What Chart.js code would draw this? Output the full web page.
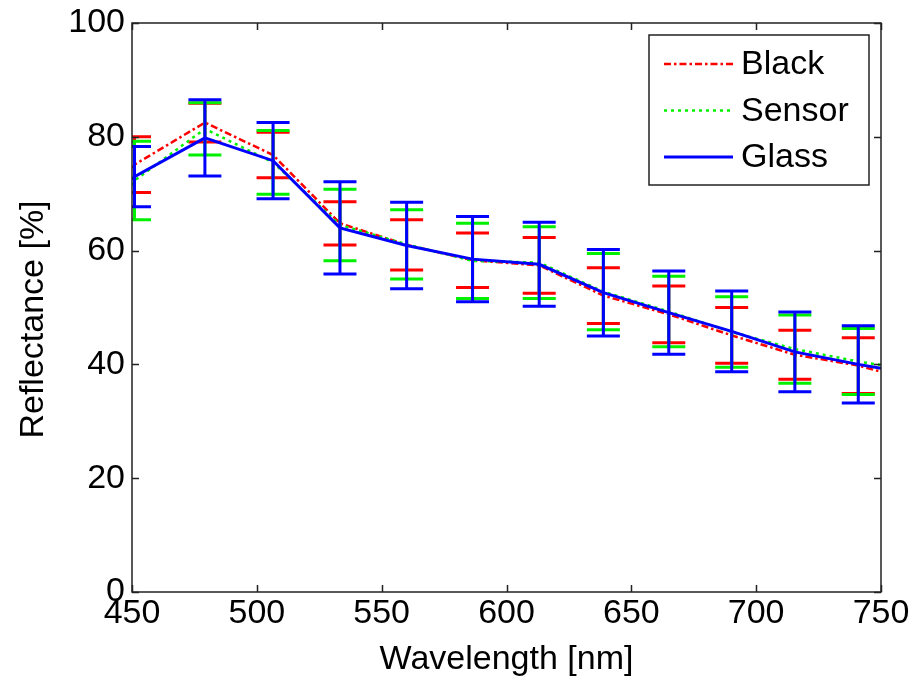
<!DOCTYPE html>
<html>
<head>
<meta charset="utf-8">
<script src="https://cdn.jsdelivr.net/npm/chart.js@4.4.1/dist/chart.umd.min.js"></script>
<style>
html, body { margin: 0; padding: 0; background: #fff; }
canvas { display: block; }
</style>
</head>
<body>
<canvas id="myChart" width="917" height="682"></canvas>
<script>
// wavelengths of the averaged measurements [nm]
const wavelengths = [451, 479.2, 506.5, 533.3, 560, 586.4, 613.1, 638.8, 665, 690.2, 715.5, 740.9];

// reflectance means and std deviations [%]
const blackMean  = [75.1, 82.5, 76.8, 64.8, 61.0, 58.3, 57.4, 52.1, 48.8, 45.1, 41.7, 39.8];
const blackErr   = [4.9, 3.4, 4.0, 3.8, 4.4, 4.8, 4.9, 4.9, 5.0, 4.9, 4.3, 4.9];
const sensorMean = [72.3, 81.4, 75.5, 64.5, 61.1, 58.2, 57.9, 52.8, 49.3, 45.7, 42.7, 40.5];
const sensorErr  = [6.9, 4.6, 5.6, 6.3, 6.1, 6.6, 6.3, 6.7, 6.2, 6.2, 6.0, 5.8];
const glassMean  = [73.0, 79.8, 75.8, 64.0, 60.9, 58.5, 57.6, 52.6, 49.1, 45.8, 42.2, 40.0];
const glassErr   = [5.3, 6.7, 6.7, 8.1, 7.6, 7.5, 7.4, 7.6, 7.3, 7.1, 7.0, 6.8];

// curve values at the ends of the measured range
const rangeEnds  = [450, 750];
const blackEnds  = [74.5, 38.7];
const sensorEnds = [71.5, 39.9];
const glassEnds  = [72.5, 39.3];

const xTicks = [450, 500, 550, 600, 650, 700, 750];
const yTicks = [0, 20, 40, 60, 80, 100];

const FONT = '34px "Liberation Sans", Arial, sans-serif';

function curve(mean, ends) {
    let pts = [{ x: rangeEnds[0], y: ends[0] }];
    for (let i = 0; i < wavelengths.length; i++) {
        pts.push({ x: wavelengths[i], y: mean[i] });
    }
    pts.push({ x: rangeEnds[1], y: ends[1] });
    return pts;
}

// draws the error bars of a dataset right after its line
const errorBars = {
    id: 'errorBars',
    afterDatasetDraw(chart, args) {
        const ds = chart.data.datasets[args.index];
        if (!ds.errMean) return;
        const ctx = chart.ctx;
        const xs = chart.scales.x, ys = chart.scales.y;
        const area = chart.chartArea;
        ctx.save();
        ctx.beginPath();
        ctx.rect(area.left, area.top, area.right - area.left, area.bottom - area.top);
        ctx.clip();
        ctx.strokeStyle = ds.borderColor;
        ctx.lineWidth = 3;
        ctx.setLineDash([]);
        for (let i = 0; i < wavelengths.length; i++) {
            const x = xs.getPixelForValue(wavelengths[i]);
            const top = ys.getPixelForValue(ds.errMean[i] + ds.errSize[i]);
            const bot = ys.getPixelForValue(ds.errMean[i] - ds.errSize[i]);
            ctx.beginPath();
            ctx.moveTo(x, top); ctx.lineTo(x, bot);
            ctx.moveTo(x - 16.5, top); ctx.lineTo(x + 16.5, top);
            ctx.moveTo(x - 16.5, bot); ctx.lineTo(x + 16.5, bot);
            ctx.stroke();
        }
        ctx.restore();
    }
};

// box axes with inward ticks, labels and the legend
const boxAxes = {
    id: 'boxAxes',
    afterDraw(chart) {
        const ctx = chart.ctx;
        const xs = chart.scales.x, ys = chart.scales.y;
        const a = chart.chartArea;
        ctx.save();
        ctx.strokeStyle = '#222';
        ctx.lineWidth = 1.5;
        ctx.setLineDash([]);
        ctx.strokeRect(a.left, a.top, a.right - a.left, a.bottom - a.top);

        ctx.beginPath();
        xTicks.forEach(v => {
            const x = Math.round(xs.getPixelForValue(v)) + 0.5;
            ctx.moveTo(x, a.bottom); ctx.lineTo(x, a.bottom - 7);
            ctx.moveTo(x, a.top); ctx.lineTo(x, a.top + 7);
        });
        yTicks.forEach(v => {
            const y = Math.round(ys.getPixelForValue(v)) + 0.5;
            ctx.moveTo(a.left, y); ctx.lineTo(a.left + 7, y);
            ctx.moveTo(a.right, y); ctx.lineTo(a.right - 7, y);
        });
        ctx.stroke();

        ctx.fillStyle = '#000';
        ctx.font = FONT;
        ctx.textAlign = 'center';
        ctx.textBaseline = 'middle';
        xTicks.forEach(v => ctx.fillText(String(v), xs.getPixelForValue(v), a.bottom + 22));
        ctx.textAlign = 'right';
        yTicks.forEach(v => ctx.fillText(String(v), a.left - 7, ys.getPixelForValue(v)));

        ctx.textAlign = 'center';
        ctx.fillText('Wavelength [nm]', (a.left + a.right) / 2, 660);
        ctx.save();
        ctx.translate(34, (a.top + a.bottom) / 2 + 12);
        ctx.rotate(-Math.PI / 2);
        ctx.fillText('Reflectance [%]', 0, 0);
        ctx.restore();

        // legend
        const lx = 649, ly = 35, lw = 220, lh = 150;
        ctx.fillStyle = '#fff';
        ctx.fillRect(lx, ly, lw, lh);
        ctx.strokeStyle = '#222';
        ctx.lineWidth = 1.5;
        ctx.strokeRect(lx, ly, lw, lh);
        const rows = [chart.data.datasets[0], chart.data.datasets[1], chart.data.datasets[2]];
        rows.forEach((ds, i) => {
            const y = ly + 29 + i * 46.5;
            ctx.strokeStyle = ds.borderColor;
            ctx.lineWidth = ds.borderWidth;
            ctx.setLineDash(ds.borderDash || []);
            ctx.beginPath();
            ctx.moveTo(lx + 15, y); ctx.lineTo(lx + 84, y);
            ctx.stroke();
            ctx.setLineDash([]);
            ctx.fillStyle = '#000';
            ctx.textAlign = 'left';
            ctx.fillText(ds.label, lx + 92, y + 1);
        });
        ctx.restore();
    }
};

let reflChart = new Chart(document.getElementById('myChart'), {
    type: 'line',
    data: {
        datasets: [{
                label: 'Black',
                data: curve(blackMean, blackEnds),
                errMean: blackMean,
                errSize: blackErr,
                borderColor: '#ff0000',
                borderWidth: 2.5,
                borderDash: [7, 3, 2.5, 3],
                order: 3
            },
            {
                label: 'Sensor',
                data: curve(sensorMean, sensorEnds),
                errMean: sensorMean,
                errSize: sensorErr,
                borderColor: '#00f000',
                borderWidth: 2.5,
                borderDash: [3, 4],
                order: 2
            },
            {
                label: 'Glass',
                data: curve(glassMean, glassEnds),
                errMean: glassMean,
                errSize: glassErr,
                borderColor: '#0000ff',
                borderWidth: 3,
                order: 1
            }
        ]
    },
    options: {
        responsive: false,
        animation: false,
        devicePixelRatio: 1,
        elements: {
            point: { radius: 0 },
            line: { tension: 0, fill: false }
        },
        layout: {
            padding: { left: 132, right: 36, top: 23, bottom: 90 }
        },
        scales: {
            x: { type: 'linear', min: 450, max: 750, display: false },
            y: { type: 'linear', min: 0, max: 100, display: false }
        },
        plugins: {
            legend: { display: false },
            tooltip: { enabled: false }
        }
    },
    plugins: [errorBars, boxAxes]
});
</script>
</body>
</html>
